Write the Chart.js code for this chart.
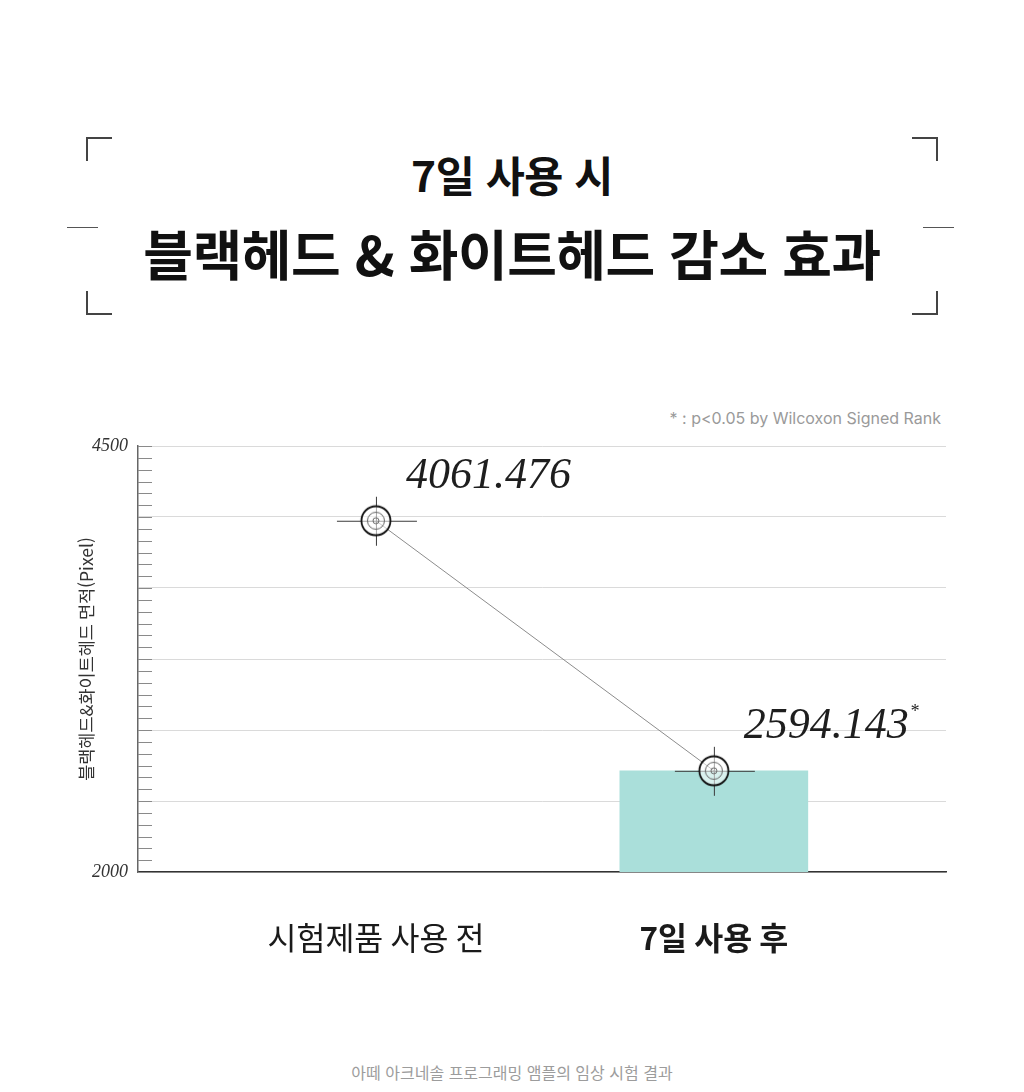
<!DOCTYPE html>
<html lang="ko">
<head>
<meta charset="utf-8">
<title>블랙헤드 & 화이트헤드 감소 효과</title>
<script src="https://cdn.jsdelivr.net/npm/chart.js@4.4.1/dist/chart.umd.min.js"></script>
<style>
  html, body { margin: 0; padding: 0; background: #fff; }
  body { width: 1024px; height: 1092px; position: relative; overflow: hidden; font-family: "Noto Sans CJK KR", "Noto Sans", sans-serif; }
  .abs { position: absolute; }
  .corner { position: absolute; width: 24px; height: 22px; border: 0 solid #444; }
  .side { position: absolute; height: 0; border-top: 1.5px solid #555; width: 31px; top: 227px; }
  .title1 { left: 0; width: 1024px; top: 145px; text-align: center; font-size: 42.5px; font-weight: 700; color: #111; line-height: 58px; letter-spacing: -0.5px; }
  .title2 { left: 0; width: 1024px; top: 219px; text-align: center; font-size: 54px; font-weight: 700; color: #111; line-height: 68px; letter-spacing: -0.5px; }
  .note { right: 83px; top: 408px; font-family: Inter, "Noto Sans", sans-serif; font-size: 16px; color: #9a9a9a; }
  .footer { left: 0; width: 1024px; top: 1060px; text-align: center; font-size: 16px; color: #9c9c9c; }
  #wrap { position: absolute; left: 0; top: 400px; width: 1024px; height: 580px; }
</style>
</head>
<body>
<div class="corner" style="left:86px; top:137px; border-left-width:2px; border-top-width:2px;"></div>
<div class="corner" style="left:86px; top:291px; border-left-width:2px; border-bottom-width:2px;"></div>
<div class="corner" style="left:912px; top:137px; border-right-width:2px; border-top-width:2px;"></div>
<div class="corner" style="left:912px; top:291px; border-right-width:2px; border-bottom-width:2px;"></div>
<div class="side" style="left:67px;"></div>
<div class="side" style="left:923px;"></div>

<div class="abs title1">7일 사용 시</div>
<div class="abs title2">블랙헤드 &amp; 화이트헤드 감소 효과</div>
<div class="abs note">* : p&lt;0.05 by Wilcoxon Signed Rank</div>

<div id="wrap"><canvas id="chart" width="1024" height="580"></canvas></div>

<div class="abs footer">아떼 아크네솔 프로그래밍 앰플의 임상 시험 결과</div>

<script>
// data
const categories = ['시험제품 사용 전', '7일 사용 후'];
const values = [4061.476, 2594.143];
const significant = [false, true];
const yTickLabels = ['2000', '4500'];
const yMin = 2000, yMax = 4500;

// crosshair target marker used as point style
function makeTarget() {
    const c = document.createElement('canvas');
    c.width = 84; c.height = 52;
    const g = c.getContext('2d');
    const cx = 42, cy = 26;
    g.strokeStyle = '#3a3a3a';
    g.lineWidth = 1;
    g.beginPath();
    g.moveTo(3, cy + 0.5); g.lineTo(83, cy + 0.5);
    g.moveTo(cx + 0.5, 2); g.lineTo(cx + 0.5, 51);
    g.stroke();
    g.fillStyle = 'rgba(255,255,255,0.55)';
    g.beginPath(); g.arc(cx, cy, 14.5, 0, Math.PI * 2); g.fill();
    g.strokeStyle = '#111';
    g.lineWidth = 1.8;
    g.beginPath(); g.arc(cx, cy, 14.5, 0, Math.PI * 2); g.stroke();
    g.strokeStyle = '#666';
    g.lineWidth = 1;
    g.beginPath(); g.arc(cx, cy, 8.5, 0, Math.PI * 2); g.stroke();
    g.beginPath(); g.arc(cx, cy, 3, 0, Math.PI * 2); g.stroke();
    return c;
}

// little tick marks on the inner side of the y axis
const minorTicks = {
    id: 'minorTicks',
    afterDraw(chart) {
        const y = chart.scales.y, ctx = chart.ctx, left = chart.chartArea.left;
        ctx.save();
        ctx.strokeStyle = '#8a8a8a';
        ctx.lineWidth = 1;
        y.ticks.forEach(t => {
            const py = Math.round(y.getPixelForValue(t.value)) + 0.5;
            ctx.beginPath();
            ctx.moveTo(left, py);
            ctx.lineTo(left + 14, py);
            ctx.stroke();
        });
        ctx.restore();
    }
};

// big italic value labels next to each point
const valueLabels = {
    id: 'valueLabels',
    afterDatasetsDraw(chart) {
        const ctx = chart.ctx;
        const meta = chart.getDatasetMeta(0);
        ctx.save();
        ctx.fillStyle = '#1e1e1e';
        ctx.textBaseline = 'middle';
        ctx.textAlign = 'left';
        meta.data.forEach((pt, i) => {
            const txt = values[i].toFixed(3);
            ctx.font = 'italic 44px "Liberation Serif", serif';
            const x = pt.x + 30, y = pt.y - 44;
            ctx.fillText(txt, x, y);
            if (significant[i]) {
                const w = ctx.measureText(txt).width;
                ctx.font = 'italic 18px "Liberation Serif", serif';
                ctx.fillText('*', x + w + 1, y - 14);
            }
        });
        ctx.restore();
    }
};

const ctx = document.getElementById('chart').getContext('2d');
new Chart(ctx, {
    data: {
        datasets: [
            {
                type: 'line',
                data: values.map((v, i) => ({ x: i, y: v })),
                borderColor: '#8c8c8c',
                borderWidth: 1,
                pointStyle: makeTarget(),
                pointRadius: 20,
                pointHoverRadius: 20,
                order: 0
            },
            {
                type: 'bar',
                data: values.map((v, i) => ({ x: i, y: v })),
                backgroundColor: ['rgba(0,0,0,0)', '#aadfda'],
                barThickness: 188,
                order: 1
            }
        ]
    },
    options: {
        responsive: false,
        animation: false,
        layout: { padding: { top: 46, right: 78, bottom: 0, left: 0 } },
        plugins: {
            legend: { display: false },
            tooltip: { enabled: false }
        },
        scales: {
            x: {
                type: 'linear',
                offset: false,
                min: -0.704,
                max: 1.687,
                afterBuildTicks: s => { s.ticks = categories.map((c, i) => ({ value: i })); },
                afterFit: s => { s.height = 108; },
                ticks: {
                    autoSkip: false,
                    maxRotation: 0,
                    padding: 47,
                    color: '#1a1a1a',
                    callback: v => categories[v],
                    font: c => ({ family: '"Noto Sans CJK KR"', size: 31.5, weight: c.index === 1 ? '700' : '400' })
                },
                grid: { display: false, drawTicks: false, offset: false },
                border: { display: true, color: '#333', width: 1.5 }
            },
            y: {
                min: yMin,
                max: yMax,
                afterBuildTicks: s => {
                    s.ticks = Array.from({ length: 37 }, (_, i) => ({ value: yMin + i * (yMax - yMin) / 36 }));
                },
                afterFit: s => { s.width = 138; },
                ticks: {
                    autoSkip: false,
                    padding: 10,
                    color: '#333',
                    font: { family: '"Liberation Serif"', style: 'italic', size: 18 },
                    callback: (v, i) => i === 0 ? yTickLabels[0] : (i === 36 ? yTickLabels[1] : '')
                },
                grid: {
                    drawTicks: false,
                    lineWidth: 1,
                    color: c => (c.index % 6 === 0 ? '#dadada' : 'rgba(0,0,0,0)')
                },
                border: { color: '#666', width: 1.5 },
                title: {
                    display: true,
                    text: '블랙헤드&화이트헤드 면적(Pixel)',
                    color: '#333',
                    font: { family: '"Noto Sans CJK KR"', size: 17.5 },
                    padding: { top: 76, bottom: 0 }
                }
            }
        }
    },
    plugins: [minorTicks, valueLabels]
});
</script>
</body>
</html>
